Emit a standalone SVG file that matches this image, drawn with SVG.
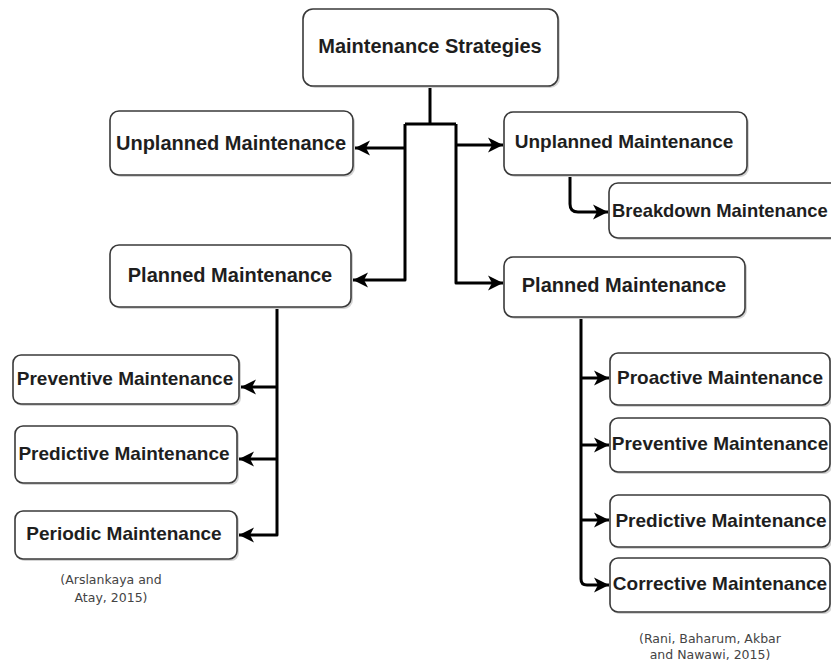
<svg xmlns="http://www.w3.org/2000/svg" width="831" height="661" viewBox="0 0 831 661">
<style>
.box{fill:#fff;stroke:#3a3a3a;stroke-width:1.6}
.sh{fill:#d4d4d4;stroke:none}
.t{font-family:"Liberation Sans",Arial,sans-serif;font-weight:bold;fill:#1e1e1e;text-anchor:middle}
.t20{font-size:20px}
.t19{font-size:19px}
.c{font-family:"DejaVu Sans",Verdana,sans-serif;font-size:12.5px;fill:#444;text-anchor:middle}
.ln{fill:none;stroke:#000;stroke-width:3;stroke-linejoin:round}
</style>
<defs>
<marker id="ah" markerUnits="userSpaceOnUse" markerWidth="17" markerHeight="17" refX="15" refY="7.5" orient="auto" viewBox="0 0 17 15">
<path d="M0,0 L15,7.5 L0,15 L4,7.5 z" fill="#000"/>
</marker>
</defs>
<rect width="831" height="661" fill="#fff"/>
<g id="connectors">
<path class="ln" d="M430,86 V124"/>
<path class="ln" d="M405,124 H456"/>
<path class="ln" d="M405,124 V280 H353" marker-end="url(#ah)"/>
<path class="ln" d="M405,148 H355" marker-end="url(#ah)"/>
<path class="ln" d="M456,124 V283 H503" marker-end="url(#ah)"/>
<path class="ln" d="M456,145 H503" marker-end="url(#ah)"/>
<path class="ln" d="M570,176 V204 Q570,212 578,212 H608" marker-end="url(#ah)"/>
<path class="ln" d="M277,307 V535 H239" marker-end="url(#ah)"/>
<path class="ln" d="M277,387 H241" marker-end="url(#ah)"/>
<path class="ln" d="M277,459 H239" marker-end="url(#ah)"/>
<path class="ln" d="M581,317 V579 Q581,585 587,585 H609" marker-end="url(#ah)"/>
<path class="ln" d="M581,378 H609" marker-end="url(#ah)"/>
<path class="ln" d="M581,445 H609" marker-end="url(#ah)"/>
<path class="ln" d="M581,520 H609" marker-end="url(#ah)"/>
</g>
<g id="n-root">
<rect class="sh" x="305" y="11" width="255" height="77" rx="10"/>
<rect class="box" x="303" y="9" width="255" height="77" rx="10"/>
<text class="t t20" x="430" y="53">Maintenance Strategies</text>
</g>
<g id="n-unplanned-left">
<rect class="sh" x="112" y="113" width="243" height="64" rx="9"/>
<rect class="box" x="110" y="111" width="243" height="64" rx="9"/>
<text class="t t20" x="231" y="150">Unplanned Maintenance</text>
</g>
<g id="n-planned-left">
<rect class="sh" x="112" y="247" width="241" height="62" rx="9"/>
<rect class="box" x="110" y="245" width="241" height="62" rx="9"/>
<text class="t t20" x="230" y="282">Planned Maintenance</text>
</g>
<g id="n-unplanned-right">
<rect class="sh" x="506" y="114" width="243" height="63" rx="9"/>
<rect class="box" x="504" y="112" width="243" height="63" rx="9"/>
<text class="t t19" x="624" y="148">Unplanned Maintenance</text>
</g>
<g id="n-breakdown">
<rect class="sh" x="611" y="185" width="240" height="55" rx="9"/>
<rect class="box" x="609" y="183" width="240" height="55" rx="9"/>
<text class="t" x="612" y="217" style="text-anchor:start;font-size:18.4px">Breakdown Maintenance</text>
</g>
<g id="n-planned-right">
<rect class="sh" x="506" y="259" width="241" height="60" rx="9"/>
<rect class="box" x="504" y="257" width="241" height="60" rx="9"/>
<text class="t t20" x="624" y="292">Planned Maintenance</text>
</g>
<g id="n-preventive-left">
<rect class="sh" x="15" y="357" width="226" height="49" rx="8"/>
<rect class="box" x="13" y="355" width="226" height="49" rx="8"/>
<text class="t t19" x="125" y="385">Preventive Maintenance</text>
</g>
<g id="n-predictive-left">
<rect class="sh" x="17" y="428" width="222" height="57" rx="8"/>
<rect class="box" x="15" y="426" width="222" height="57" rx="8"/>
<text class="t t19" x="124" y="460">Predictive Maintenance</text>
</g>
<g id="n-periodic">
<rect class="sh" x="17" y="513" width="222" height="48" rx="8"/>
<rect class="box" x="15" y="511" width="222" height="48" rx="8"/>
<text class="t t19" x="124" y="540">Periodic Maintenance</text>
</g>
<g id="n-proactive">
<rect class="sh" x="612" y="355" width="220" height="52" rx="8"/>
<rect class="box" x="610" y="353" width="220" height="52" rx="8"/>
<text class="t t19" x="720" y="384">Proactive Maintenance</text>
</g>
<g id="n-preventive-right">
<rect class="sh" x="612" y="420" width="220" height="54" rx="8"/>
<rect class="box" x="610" y="418" width="220" height="54" rx="8"/>
<text class="t t19" x="720" y="450">Preventive Maintenance</text>
</g>
<g id="n-predictive-right">
<rect class="sh" x="612" y="497" width="220" height="52" rx="8"/>
<rect class="box" x="610" y="495" width="220" height="52" rx="8"/>
<text class="t t19" x="721" y="527">Predictive Maintenance</text>
</g>
<g id="n-corrective">
<rect class="sh" x="612" y="560" width="220" height="54" rx="8"/>
<rect class="box" x="610" y="558" width="220" height="54" rx="8"/>
<text class="t t19" x="720" y="590">Corrective Maintenance</text>
</g>
<g id="citations">
<text class="c" x="111" y="584">(Arslankaya and</text>
<text class="c" x="111" y="602">Atay, 2015)</text>
<text class="c" x="710" y="643">(Rani, Baharum, Akbar</text>
<text class="c" x="710" y="659">and Nawawi, 2015)</text>
</g>
</svg>
